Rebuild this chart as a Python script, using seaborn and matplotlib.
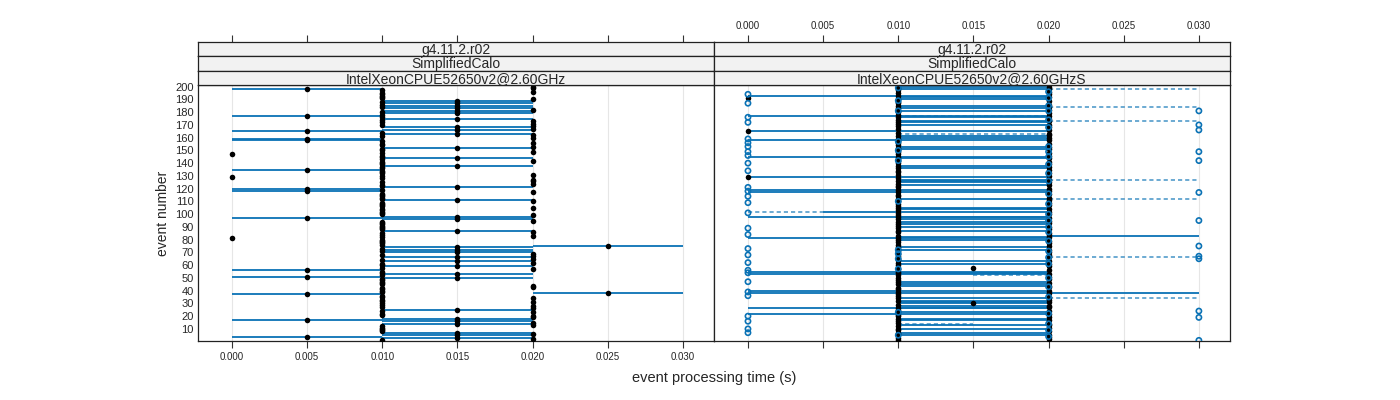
import pandas as pd
import matplotlib
matplotlib.use('Agg')
import matplotlib.pyplot as plt
import seaborn as sns

sns.set_style('white')
plt.rcParams['font.family'] = ['Liberation Sans', 'DejaVu Sans']

# ---- left panel: event -> processing time (s)
left_t000 = [81, 129, 147]
left_t005 = [4, 17, 37, 51, 56, 97, 118, 120, 135, 158, 159, 165, 177, 198]
left_t010 = [1, 8, 9, 10, 11, 12, 21, 22, 24, 27, 29, 30, 32, 33, 35, 36, 39, 40, 41, 42,
             45, 46, 47, 48, 49, 52, 54, 55, 58, 60, 61, 64, 68, 71, 73, 76, 77, 78, 79, 80,
             82, 84, 85, 88, 89, 90, 91, 92, 93, 94, 100, 101, 102, 103, 104, 106, 107, 108,
             109, 112, 113, 114, 115, 116, 119, 122, 123, 125, 128, 130, 132, 133, 134, 136,
             137, 139, 140, 141, 143, 145, 146, 148, 150, 151, 154, 155, 157, 161, 164, 170,
             172, 174, 176, 178, 180, 184, 186, 188, 191, 192, 193, 194, 195, 197]
left_t015 = [3, 5, 7, 14, 16, 18, 25, 50, 53, 59, 63, 66, 70, 72, 74, 87, 96, 98, 111, 121,
             138, 144, 152, 163, 166, 168, 175, 179, 181, 183, 185, 187, 189]
left_t020 = [2, 6, 13, 15, 19, 20, 23, 26, 28, 31, 34, 43, 44, 57, 62, 65, 67, 69, 83, 86,
             95, 99, 105, 110, 117, 124, 126, 127, 131, 142, 149, 153, 156, 160, 162, 167,
             169, 171, 173, 182, 190, 196, 199, 200]
left_t025 = [38, 75]

# ---- right panel
right_black_t000 = [129, 165, 191]
right_black_t010 = [1, 3, 6, 7, 9, 10, 12, 15, 16, 18, 20, 21, 23, 25, 26, 29, 32, 34, 36, 37,
                    39, 41, 42, 45, 47, 48, 50, 52, 54, 55, 57, 60, 62, 64, 65, 67, 69, 71, 73,
                    74, 76, 78, 80, 81, 83, 86, 87, 89, 91, 92, 94, 96, 98, 99, 101, 103, 105,
                    106, 108, 110, 112, 114, 115, 117, 119, 121, 122, 124, 126, 128, 131, 133,
                    134, 136, 138, 140, 142, 143, 145, 147, 149, 150, 152, 154, 156, 157, 159,
                    161, 164, 167, 169, 171, 172, 174, 176, 178, 180, 181, 183, 185, 187, 188,
                    190, 193, 195, 197, 199]
right_black_t015 = [30, 58]
right_black_t020 = [2, 4, 5, 8, 11, 13, 14, 17, 19, 22, 24, 27, 28, 31, 33, 35, 38, 40, 43, 44,
                    46, 49, 51, 53, 56, 59, 61, 63, 66, 68, 70, 72, 75, 77, 79, 82, 84, 85, 88,
                    90, 93, 95, 97, 100, 102, 104, 107, 109, 111, 113, 116, 118, 120, 123, 125,
                    127, 130, 132, 135, 137, 139, 141, 144, 146, 148, 151, 153, 155, 158, 160,
                    162, 163, 166, 168, 170, 173, 175, 177, 179, 182, 184, 186, 189, 192, 194,
                    196, 198, 200]

right_open_t000 = [7, 10, 16, 20, 36, 39, 47, 54, 56, 62, 68, 73, 84, 89, 101, 109, 114, 118,
                   121, 134, 140, 146, 149, 153, 156, 159, 172, 176, 187, 194]
right_open_t010 = [5, 23, 57, 65, 69, 72, 110, 142, 150, 157, 181, 189, 199]
right_open_t020 = [4, 9, 14, 22, 35, 43, 50, 61, 66, 71, 79, 86, 90, 95, 100, 108, 116, 126,
                   132, 139, 145, 149, 153, 168, 174, 181, 185, 191, 196]
right_open_t030 = [1, 19, 24, 65, 67, 75, 95, 117, 142, 149, 166, 170, 181]

right_solid_000_020 = [22, 26, 38, 40, 53, 55, 81, 98, 117, 119, 129, 145, 158, 165, 177, 193]
right_solid_005_020 = [102]
right_solid_010_020 = [5, 7, 10, 13, 17, 18, 23, 26, 28, 30, 31, 32, 34, 44, 45, 47, 54, 61,
                       63, 72, 74, 80, 82, 87, 90, 92, 94, 96, 98, 104, 105, 112, 123, 125,
                       126, 127, 136, 138, 144, 151, 153, 160, 161, 170, 172, 173, 176, 181,
                       183, 185, 190, 192, 198, 200]
right_solid_020_030 = [38, 83]
right_dash_000_005 = [102]
right_dash_010_015 = [14]
right_dash_010_020 = [163, 177]
right_dash_015_020 = [52]
right_dash_020_030 = [34, 66, 112, 127, 173, 184, 198]

times = [0.0, 0.005, 0.010, 0.015, 0.020, 0.025, 0.030]


def points(groups):
    rows = [(e, t) for t, evs in groups for e in evs]
    return pd.DataFrame(rows, columns=['event', 'time'])


def segments(groups):
    rows = [(e, a, b) for a, b, evs in groups for e in evs]
    return pd.DataFrame(rows, columns=['event', 'start', 'end'])


left = points([(0.0, left_t000), (0.005, left_t005), (0.010, left_t010),
               (0.015, left_t015), (0.020, left_t020), (0.025, left_t025)])
# half-step interval around values between timer ticks
odd = left[left['time'].round(3).isin([0.005, 0.015, 0.025])]
left_seg = pd.DataFrame({'event': odd['event'], 'start': odd['time'] - 0.005,
                         'end': odd['time'] + 0.005})

rblack = points([(0.0, right_black_t000), (0.010, right_black_t010),
                 (0.015, right_black_t015), (0.020, right_black_t020)])
ropen = points([(0.0, right_open_t000), (0.010, right_open_t010),
                (0.020, right_open_t020), (0.030, right_open_t030)])
rsolid = segments([(0.0, 0.020, right_solid_000_020), (0.005, 0.020, right_solid_005_020),
                   (0.010, 0.020, right_solid_010_020), (0.020, 0.030, right_solid_020_030)])
rdash = segments([(0.0, 0.005, right_dash_000_005), (0.010, 0.015, right_dash_010_015),
                  (0.010, 0.020, right_dash_010_020), (0.015, 0.020, right_dash_015_020),
                  (0.020, 0.030, right_dash_020_030)])

blue = '#0a72b5'
FW, FH = 1400, 400
fig = plt.figure(figsize=(14, 4), dpi=100)

px0, pw = 198, 516
ptop, pbot = 85, 341
xlim = (-0.00226, 0.03207)
ylim = (0.5, 201.3)
strips = ['g4.11.2.r02', 'SimplifiedCalo']
cpus = ['IntelXeonCPUE52650v2@2.60GHz', 'IntelXeonCPUE52650v2@2.60GHzS']

axes = []
for i in range(2):
    x0 = px0 + i * pw
    ax = fig.add_axes([x0 / FW, (FH - pbot) / FH, pw / FW, (pbot - ptop) / FH])
    ax.set_xlim(xlim)
    ax.set_ylim(ylim)
    for t in times:
        ax.axvline(t, color='#e6e6e6', lw=0.8, zorder=0)
    for s in ax.spines.values():
        s.set_color('#222222')
        s.set_linewidth(0.9)
    ax.set_xticks(times)
    ax.tick_params(axis='x', direction='out', length=5, width=0.8, color='#333333',
                   labelsize=7, pad=3, bottom=True)
    ax.set_yticks(range(10, 201, 10))
    ax.tick_params(axis='y', length=0, labelsize=8, pad=3)
    if i == 1:
        ax.set_xticklabels([])
        ax.set_yticklabels([])
    else:
        ax.set_xticklabels([f'{t:.3f}' for t in times])
    ax.set_xlabel('')
    ax.set_ylabel('')
    axes.append(ax)

    # strips
    sh = (ptop - 42) / 3
    labels = strips + [cpus[i]]
    for k, lab in enumerate(labels):
        top = 42 + k * sh
        sa = fig.add_axes([x0 / FW, (FH - top - sh) / FH, pw / FW, sh / FH])
        sa.set_facecolor('#f2f2f2')
        sa.set_xlim(xlim)
        sa.set_yticks([])
        for s in sa.spines.values():
            s.set_color('#222222')
            s.set_linewidth(0.9)
        sa.text(0.5, 0.45, lab, transform=sa.transAxes, ha='center', va='center', fontsize=10)
        if k == 0:
            sa.xaxis.tick_top()
            sa.set_xticks(times)
            sa.tick_params(axis='x', direction='out', length=5, width=0.8, color='#333333',
                           labelsize=7, pad=3)
            if i == 1:
                sa.set_xticklabels([f'{t:.3f}' for t in times])
            else:
                sa.set_xticklabels([])
        else:
            sa.set_xticks([])

axL, axR = axes

# left panel
axL.hlines(left_seg['event'], left_seg['start'], left_seg['end'], color=blue, lw=1.3, zorder=1)
sns.scatterplot(data=left, x='time', y='event', color='black', s=16, linewidth=0,
                ax=axL, legend=False, zorder=3)

# right panel
axR.hlines(rsolid['event'], rsolid['start'], rsolid['end'], color=blue, lw=1.3, zorder=1)
axR.hlines(rdash['event'], rdash['start'], rdash['end'], color=blue, lw=1.2, alpha=0.7,
           linestyles=(0, (2.5, 1.8)), zorder=1)
sns.scatterplot(data=rblack, x='time', y='event', color='black', s=16, linewidth=0,
                ax=axR, legend=False, zorder=3)
sns.scatterplot(data=ropen, x='time', y='event', fc='none', ec=blue, s=14, linewidth=1.2,
                ax=axR, legend=False, zorder=4)

for ax in axes:
    ax.set_xlabel('')
    ax.set_ylabel('')

fig.text(714 / FW, (FH - 378) / FH, 'event processing time (s)', ha='center', va='center',
         fontsize=10.5)
fig.text(163 / FW, (FH - 213) / FH, 'event number', ha='center', va='center', rotation=90,
         fontsize=10)

fig.savefig('out.png', dpi=100)
